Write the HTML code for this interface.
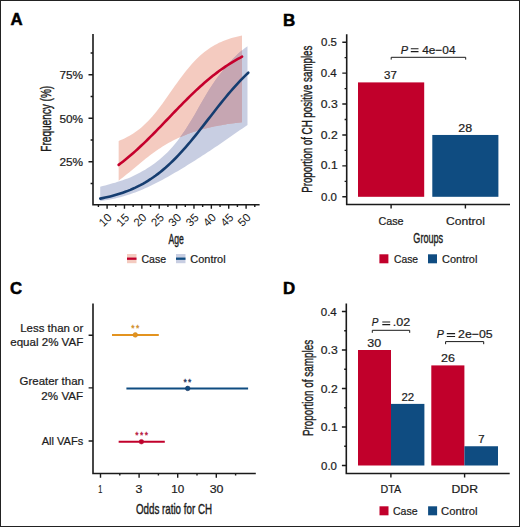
<!DOCTYPE html>
<html><head><meta charset="utf-8"><style>html,body{margin:0;padding:0;background:#fff;width:520px;height:527px;overflow:hidden}svg{display:block}</style></head>
<body><svg width="520" height="527" viewBox="0 0 520 527" font-family="'Liberation Sans', sans-serif">
<rect x="0.5" y="0.5" width="519" height="526" fill="#fff" stroke="#222" stroke-width="1"/>
<text id="lA" x="16.50" y="24.76" font-size="16" text-anchor="middle" fill="#000" textLength="12.12" lengthAdjust="spacingAndGlyphs" font-weight="bold" stroke="#000" stroke-width="0.5">A</text>
<text id="lB" x="289.25" y="25.76" font-size="16" text-anchor="middle" fill="#000" textLength="12.26" lengthAdjust="spacingAndGlyphs" font-weight="bold" stroke="#000" stroke-width="0.5">B</text>
<text id="lC" x="16.00" y="294.26" font-size="16" text-anchor="middle" fill="#000" textLength="12.08" lengthAdjust="spacingAndGlyphs" font-weight="bold" stroke="#000" stroke-width="0.5">C</text>
<text id="lD" x="289.00" y="294.26" font-size="16" text-anchor="middle" fill="#000" textLength="12.18" lengthAdjust="spacingAndGlyphs" font-weight="bold" stroke="#000" stroke-width="0.5">D</text>
<defs><clipPath id="rc"><path d="M118.65,140.94 L120.74,140.07 L122.83,139.15 L124.92,138.16 L127.01,137.09 L129.10,135.96 L131.19,134.73 L133.28,133.42 L135.38,132.01 L137.47,130.50 L139.56,128.88 L141.65,127.14 L143.74,125.29 L145.83,123.32 L147.92,121.22 L150.01,119.00 L152.10,116.66 L154.19,114.20 L156.28,111.63 L158.37,108.97 L160.46,106.21 L162.55,103.38 L164.64,100.48 L166.74,97.54 L168.83,94.56 L170.92,91.57 L173.01,88.59 L175.10,85.61 L177.19,82.67 L179.28,79.78 L181.37,76.95 L183.46,74.19 L185.55,71.51 L187.64,68.92 L189.73,66.43 L191.82,64.05 L193.91,61.77 L196.01,59.60 L198.10,57.55 L200.19,55.61 L202.28,53.78 L204.37,52.06 L206.46,50.45 L208.55,48.94 L210.64,47.54 L212.73,46.23 L214.82,45.01 L216.91,43.89 L219.00,42.84 L221.09,41.88 L223.18,40.99 L225.27,40.17 L227.37,39.42 L229.46,38.72 L231.55,38.09 L233.64,37.50 L235.73,36.97 L237.82,36.48 L239.91,36.03 L242.00,35.62 L242.00,122.18 L239.91,122.41 L237.82,122.66 L235.73,122.92 L233.64,123.20 L231.55,123.49 L229.46,123.79 L227.37,124.11 L225.27,124.44 L223.18,124.79 L221.09,125.15 L219.00,125.53 L216.91,125.94 L214.82,126.36 L212.73,126.80 L210.64,127.26 L208.55,127.74 L206.46,128.25 L204.37,128.79 L202.28,129.34 L200.19,129.93 L198.10,130.54 L196.01,131.19 L193.91,131.86 L191.82,132.57 L189.73,133.31 L187.64,134.08 L185.55,134.89 L183.46,135.74 L181.37,136.63 L179.28,137.56 L177.19,138.53 L175.10,139.55 L173.01,140.61 L170.92,141.72 L168.83,142.87 L166.74,144.07 L164.64,145.32 L162.55,146.62 L160.46,147.96 L158.37,149.35 L156.28,150.79 L154.19,152.27 L152.10,153.80 L150.01,155.37 L147.92,156.97 L145.83,158.61 L143.74,160.28 L141.65,161.97 L139.56,163.69 L137.47,165.42 L135.38,167.16 L133.28,168.91 L131.19,170.65 L129.10,172.38 L127.01,174.09 L124.92,175.78 L122.83,177.44 L120.74,179.07 L118.65,180.66 Z"/></clipPath></defs>
<path d="M100.20,186.72 L102.70,186.08 L105.19,185.43 L107.69,184.75 L110.19,184.07 L112.68,183.36 L115.18,182.63 L117.68,181.87 L120.17,181.08 L122.67,180.26 L125.17,179.37 L127.66,178.42 L130.16,177.40 L132.66,176.29 L135.15,175.11 L137.65,173.85 L140.15,172.52 L142.64,171.12 L145.14,169.65 L147.64,168.11 L150.13,166.48 L152.63,164.77 L155.13,162.95 L157.62,161.03 L160.12,159.00 L162.62,156.86 L165.11,154.57 L167.61,152.14 L170.11,149.54 L172.60,146.76 L175.10,143.79 L177.59,140.64 L180.09,137.31 L182.59,133.81 L185.08,130.14 L187.58,126.32 L190.08,122.34 L192.57,118.20 L195.07,113.92 L197.57,109.54 L200.06,105.12 L202.56,100.72 L205.06,96.42 L207.55,92.24 L210.05,88.22 L212.55,84.39 L215.04,80.75 L217.54,77.30 L220.04,74.02 L222.53,70.89 L225.03,67.87 L227.53,64.94 L230.02,62.09 L232.52,59.35 L235.02,56.74 L237.51,54.28 L240.01,51.99 L242.51,49.89 L245.00,47.97 L247.50,46.24 L247.50,124.88 L245.00,126.63 L242.51,128.38 L240.01,130.12 L237.51,131.87 L235.02,133.61 L232.52,135.35 L230.02,137.08 L227.53,138.81 L225.03,140.53 L222.53,142.24 L220.04,143.94 L217.54,145.64 L215.04,147.33 L212.55,149.00 L210.05,150.67 L207.55,152.32 L205.06,153.97 L202.56,155.60 L200.06,157.21 L197.57,158.82 L195.07,160.41 L192.57,161.99 L190.08,163.55 L187.58,165.10 L185.08,166.64 L182.59,168.16 L180.09,169.66 L177.59,171.15 L175.10,172.61 L172.60,174.07 L170.11,175.50 L167.61,176.91 L165.11,178.30 L162.62,179.66 L160.12,181.00 L157.62,182.31 L155.13,183.58 L152.63,184.83 L150.13,186.04 L147.64,187.21 L145.14,188.34 L142.64,189.43 L140.15,190.47 L137.65,191.47 L135.15,192.42 L132.66,193.33 L130.16,194.19 L127.66,195.00 L125.17,195.77 L122.67,196.48 L120.17,197.16 L117.68,197.79 L115.18,198.38 L112.68,198.93 L110.19,199.44 L107.69,199.91 L105.19,200.35 L102.70,200.76 L100.20,201.13 Z" fill="rgba(110,125,180,0.38)"/>
<path d="M118.65,140.94 L120.74,140.07 L122.83,139.15 L124.92,138.16 L127.01,137.09 L129.10,135.96 L131.19,134.73 L133.28,133.42 L135.38,132.01 L137.47,130.50 L139.56,128.88 L141.65,127.14 L143.74,125.29 L145.83,123.32 L147.92,121.22 L150.01,119.00 L152.10,116.66 L154.19,114.20 L156.28,111.63 L158.37,108.97 L160.46,106.21 L162.55,103.38 L164.64,100.48 L166.74,97.54 L168.83,94.56 L170.92,91.57 L173.01,88.59 L175.10,85.61 L177.19,82.67 L179.28,79.78 L181.37,76.95 L183.46,74.19 L185.55,71.51 L187.64,68.92 L189.73,66.43 L191.82,64.05 L193.91,61.77 L196.01,59.60 L198.10,57.55 L200.19,55.61 L202.28,53.78 L204.37,52.06 L206.46,50.45 L208.55,48.94 L210.64,47.54 L212.73,46.23 L214.82,45.01 L216.91,43.89 L219.00,42.84 L221.09,41.88 L223.18,40.99 L225.27,40.17 L227.37,39.42 L229.46,38.72 L231.55,38.09 L233.64,37.50 L235.73,36.97 L237.82,36.48 L239.91,36.03 L242.00,35.62 L242.00,122.18 L239.91,122.41 L237.82,122.66 L235.73,122.92 L233.64,123.20 L231.55,123.49 L229.46,123.79 L227.37,124.11 L225.27,124.44 L223.18,124.79 L221.09,125.15 L219.00,125.53 L216.91,125.94 L214.82,126.36 L212.73,126.80 L210.64,127.26 L208.55,127.74 L206.46,128.25 L204.37,128.79 L202.28,129.34 L200.19,129.93 L198.10,130.54 L196.01,131.19 L193.91,131.86 L191.82,132.57 L189.73,133.31 L187.64,134.08 L185.55,134.89 L183.46,135.74 L181.37,136.63 L179.28,137.56 L177.19,138.53 L175.10,139.55 L173.01,140.61 L170.92,141.72 L168.83,142.87 L166.74,144.07 L164.64,145.32 L162.55,146.62 L160.46,147.96 L158.37,149.35 L156.28,150.79 L154.19,152.27 L152.10,153.80 L150.01,155.37 L147.92,156.97 L145.83,158.61 L143.74,160.28 L141.65,161.97 L139.56,163.69 L137.47,165.42 L135.38,167.16 L133.28,168.91 L131.19,170.65 L129.10,172.38 L127.01,174.09 L124.92,175.78 L122.83,177.44 L120.74,179.07 L118.65,180.66 Z" fill="rgba(225,110,80,0.36)"/>
<path d="M100.20,186.72 L102.70,186.08 L105.19,185.43 L107.69,184.75 L110.19,184.07 L112.68,183.36 L115.18,182.63 L117.68,181.87 L120.17,181.08 L122.67,180.26 L125.17,179.37 L127.66,178.42 L130.16,177.40 L132.66,176.29 L135.15,175.11 L137.65,173.85 L140.15,172.52 L142.64,171.12 L145.14,169.65 L147.64,168.11 L150.13,166.48 L152.63,164.77 L155.13,162.95 L157.62,161.03 L160.12,159.00 L162.62,156.86 L165.11,154.57 L167.61,152.14 L170.11,149.54 L172.60,146.76 L175.10,143.79 L177.59,140.64 L180.09,137.31 L182.59,133.81 L185.08,130.14 L187.58,126.32 L190.08,122.34 L192.57,118.20 L195.07,113.92 L197.57,109.54 L200.06,105.12 L202.56,100.72 L205.06,96.42 L207.55,92.24 L210.05,88.22 L212.55,84.39 L215.04,80.75 L217.54,77.30 L220.04,74.02 L222.53,70.89 L225.03,67.87 L227.53,64.94 L230.02,62.09 L232.52,59.35 L235.02,56.74 L237.51,54.28 L240.01,51.99 L242.51,49.89 L245.00,47.97 L247.50,46.24 L247.50,124.88 L245.00,126.63 L242.51,128.38 L240.01,130.12 L237.51,131.87 L235.02,133.61 L232.52,135.35 L230.02,137.08 L227.53,138.81 L225.03,140.53 L222.53,142.24 L220.04,143.94 L217.54,145.64 L215.04,147.33 L212.55,149.00 L210.05,150.67 L207.55,152.32 L205.06,153.97 L202.56,155.60 L200.06,157.21 L197.57,158.82 L195.07,160.41 L192.57,161.99 L190.08,163.55 L187.58,165.10 L185.08,166.64 L182.59,168.16 L180.09,169.66 L177.59,171.15 L175.10,172.61 L172.60,174.07 L170.11,175.50 L167.61,176.91 L165.11,178.30 L162.62,179.66 L160.12,181.00 L157.62,182.31 L155.13,183.58 L152.63,184.83 L150.13,186.04 L147.64,187.21 L145.14,188.34 L142.64,189.43 L140.15,190.47 L137.65,191.47 L135.15,192.42 L132.66,193.33 L130.16,194.19 L127.66,195.00 L125.17,195.77 L122.67,196.48 L120.17,197.16 L117.68,197.79 L115.18,198.38 L112.68,198.93 L110.19,199.44 L107.69,199.91 L105.19,200.35 L102.70,200.76 L100.20,201.13 Z" fill="rgb(198,166,178)" clip-path="url(#rc)"/>
<path d="M118.65,164.88 L120.74,163.30 L122.83,161.67 L124.93,160.01 L127.02,158.31 L129.11,156.56 L131.20,154.78 L133.30,152.96 L135.39,151.10 L137.48,149.21 L139.57,147.28 L141.67,145.32 L143.76,143.33 L145.85,141.31 L147.94,139.26 L150.04,137.19 L152.13,135.09 L154.22,132.98 L156.31,130.84 L158.41,128.69 L160.50,126.53 L162.59,124.36 L164.68,122.18 L166.77,120.00 L168.87,117.81 L170.96,115.62 L173.05,113.44 L175.14,111.27 L177.24,109.10 L179.33,106.94 L181.42,104.80 L183.51,102.68 L185.61,100.57 L187.70,98.49 L189.79,96.43 L191.88,94.39 L193.98,92.39 L196.07,90.41 L198.16,88.47 L200.25,86.56 L202.34,84.68 L204.44,82.84 L206.53,81.04 L208.62,79.27 L210.71,77.55 L212.81,75.86 L214.90,74.22 L216.99,72.62 L219.08,71.06 L221.18,69.54 L223.27,68.07 L225.36,66.63 L227.45,65.24 L229.55,63.89 L231.64,62.58 L233.73,61.32 L235.82,60.10 L237.92,58.91 L240.01,57.77 L242.10,56.66" fill="none" stroke="#C5002C" stroke-width="2.6" stroke-linecap="round"/>
<path d="M100.20,198.61 L102.71,198.11 L105.22,197.59 L107.73,197.02 L110.24,196.42 L112.75,195.77 L115.26,195.08 L117.77,194.35 L120.28,193.56 L122.79,192.72 L125.30,191.83 L127.81,190.88 L130.32,189.87 L132.83,188.79 L135.34,187.65 L137.85,186.43 L140.36,185.15 L142.87,183.79 L145.38,182.35 L147.89,180.82 L150.40,179.22 L152.91,177.53 L155.42,175.75 L157.93,173.88 L160.44,171.92 L162.95,169.87 L165.46,167.73 L167.97,165.49 L170.48,163.16 L172.99,160.75 L175.51,158.24 L178.02,155.64 L180.53,152.96 L183.04,150.20 L185.55,147.36 L188.06,144.45 L190.57,141.48 L193.08,138.45 L195.59,135.36 L198.10,132.23 L200.61,129.06 L203.12,125.86 L205.63,122.64 L208.14,119.41 L210.65,116.18 L213.16,112.95 L215.67,109.74 L218.18,106.55 L220.69,103.39 L223.20,100.28 L225.71,97.21 L228.22,94.19 L230.73,91.24 L233.24,88.36 L235.75,85.54 L238.26,82.81 L240.77,80.16 L243.28,77.59 L245.79,75.11 L248.30,72.73" fill="none" stroke="#153D70" stroke-width="2.6" stroke-linecap="round"/>
<path d="M93,34 V204.7 H259.6" fill="none" stroke="#1a1a1a" stroke-width="1.6"/>
<path d="M90.6,183.55 H93 M90.6,140.05 H93 M90.6,96.55 H93 M90.6,53.05 H93 M88.5,161.80 H93 M88.5,118.30 H93 M88.5,74.80 H93 M98.41,204.7 V206.9 M115.79,204.7 V206.9 M133.16,204.7 V206.9 M150.54,204.7 V206.9 M167.91,204.7 V206.9 M185.29,204.7 V206.9 M202.66,204.7 V206.9 M220.04,204.7 V206.9 M237.41,204.7 V206.9 M254.79,204.7 V206.9 M107.10,204.7 V208.8 M124.47,204.7 V208.8 M141.85,204.7 V208.8 M159.22,204.7 V208.8 M176.60,204.7 V208.8 M193.97,204.7 V208.8 M211.35,204.7 V208.8 M228.72,204.7 V208.8 M246.10,204.7 V208.8" fill="none" stroke="#1a1a1a" stroke-width="1.4"/>
<text id="ya75" x="71.25" y="78.64" font-size="11.5" text-anchor="middle" fill="#1c1c1c" textLength="23.66" lengthAdjust="spacingAndGlyphs"  stroke="#1c1c1c" stroke-width="0.22">75%</text>
<text id="ya50" x="71.25" y="122.64" font-size="11.5" text-anchor="middle" fill="#1c1c1c" textLength="23.66" lengthAdjust="spacingAndGlyphs"  stroke="#1c1c1c" stroke-width="0.22">50%</text>
<text id="ya25" x="71.25" y="165.64" font-size="11.5" text-anchor="middle" fill="#1c1c1c" textLength="23.66" lengthAdjust="spacingAndGlyphs"  stroke="#1c1c1c" stroke-width="0.22">25%</text>
<text transform="translate(106.90,212.50) rotate(-45)" font-size="11.5" text-anchor="end" dominant-baseline="hanging" fill="#1c1c1c">10</text>
<text transform="translate(124.27,212.50) rotate(-45)" font-size="11.5" text-anchor="end" dominant-baseline="hanging" fill="#1c1c1c">15</text>
<text transform="translate(141.65,212.50) rotate(-45)" font-size="11.5" text-anchor="end" dominant-baseline="hanging" fill="#1c1c1c">20</text>
<text transform="translate(159.03,212.50) rotate(-45)" font-size="11.5" text-anchor="end" dominant-baseline="hanging" fill="#1c1c1c">25</text>
<text transform="translate(176.40,212.50) rotate(-45)" font-size="11.5" text-anchor="end" dominant-baseline="hanging" fill="#1c1c1c">30</text>
<text transform="translate(193.78,212.50) rotate(-45)" font-size="11.5" text-anchor="end" dominant-baseline="hanging" fill="#1c1c1c">35</text>
<text transform="translate(211.15,212.50) rotate(-45)" font-size="11.5" text-anchor="end" dominant-baseline="hanging" fill="#1c1c1c">40</text>
<text transform="translate(228.53,212.50) rotate(-45)" font-size="11.5" text-anchor="end" dominant-baseline="hanging" fill="#1c1c1c">45</text>
<text transform="translate(245.90,212.50) rotate(-45)" font-size="11.5" text-anchor="end" dominant-baseline="hanging" fill="#1c1c1c">50</text>
<text id="tFreq" transform="translate(51.22,118.75) rotate(-90)" font-size="14.5" text-anchor="middle" fill="#1c1c1c" textLength="65.84" lengthAdjust="spacingAndGlyphs" stroke="#1c1c1c" stroke-width="0.4">Frequency (%)</text>
<text id="tAge" x="176.25" y="243.72" font-size="14.5" text-anchor="middle" fill="#1c1c1c" textLength="15.36" lengthAdjust="spacingAndGlyphs" stroke="#1c1c1c" stroke-width="0.4">Age</text>
<rect x="127" y="254" width="9.5" height="9.2" fill="rgba(225,110,80,0.36)"/>
<path d="M127,258.7 H136.5" stroke="#C1002B" stroke-width="2.3"/>
<rect x="176" y="254" width="9.5" height="9.2" fill="rgba(110,125,180,0.38)"/>
<path d="M176,258.7 H185.5" stroke="#0F4C81" stroke-width="2.3"/>
<text id="legA1" x="153.75" y="262.53" font-size="11.2" text-anchor="middle" fill="#1c1c1c" textLength="24.67" lengthAdjust="spacingAndGlyphs"  stroke="#1c1c1c" stroke-width="0.22">Case</text>
<text id="legA2" x="208.00" y="262.53" font-size="11.2" text-anchor="middle" fill="#1c1c1c" textLength="35.30" lengthAdjust="spacingAndGlyphs"  stroke="#1c1c1c" stroke-width="0.22">Control</text>
<rect x="358" y="82.40" width="66.2" height="114.40" fill="#C1002B"/>
<rect x="432.3" y="134.96" width="66.1" height="61.84" fill="#0F4C81"/>
<path d="M346.7,34.3 V204.5 H510" fill="none" stroke="#1a1a1a" stroke-width="1.6"/>
<path d="M342.3,196.80 H346.7 M342.3,165.88 H346.7 M342.3,134.96 H346.7 M342.3,104.04 H346.7 M342.3,73.12 H346.7 M342.3,42.20 H346.7 M344.6,181.34 H346.7 M344.6,150.42 H346.7 M344.6,119.50 H346.7 M344.6,88.58 H346.7 M344.6,57.66 H346.7 M391.1,204.5 V208.5 M465.4,204.5 V208.5" fill="none" stroke="#1a1a1a" stroke-width="1.4"/>
<text id="yb0" x="329.00" y="200.64" font-size="11.5" text-anchor="middle" fill="#1c1c1c" textLength="15.92" lengthAdjust="spacingAndGlyphs"  stroke="#1c1c1c" stroke-width="0.22">0.0</text>
<text id="yb1" x="329.25" y="169.44" font-size="11.5" text-anchor="middle" fill="#1c1c1c" textLength="16.92" lengthAdjust="spacingAndGlyphs"  stroke="#1c1c1c" stroke-width="0.22">0.1</text>
<text id="yb2" x="329.25" y="139.24" font-size="11.5" text-anchor="middle" fill="#1c1c1c" textLength="16.92" lengthAdjust="spacingAndGlyphs"  stroke="#1c1c1c" stroke-width="0.22">0.2</text>
<text id="yb3" x="329.25" y="108.04" font-size="11.5" text-anchor="middle" fill="#1c1c1c" textLength="16.92" lengthAdjust="spacingAndGlyphs"  stroke="#1c1c1c" stroke-width="0.22">0.3</text>
<text id="yb4" x="328.75" y="76.84" font-size="11.5" text-anchor="middle" fill="#1c1c1c" textLength="16.00" lengthAdjust="spacingAndGlyphs"  stroke="#1c1c1c" stroke-width="0.22">0.4</text>
<text id="yb5" x="329.00" y="46.14" font-size="11.5" text-anchor="middle" fill="#1c1c1c" textLength="15.92" lengthAdjust="spacingAndGlyphs"  stroke="#1c1c1c" stroke-width="0.22">0.5</text>
<text id="b37" x="390.50" y="78.64" font-size="11.5" text-anchor="middle" fill="#1c1c1c" textLength="12.81" lengthAdjust="spacingAndGlyphs"  stroke="#1c1c1c" stroke-width="0.22">37</text>
<text id="b28" x="465.25" y="132.14" font-size="11.5" text-anchor="middle" fill="#1c1c1c" textLength="13.89" lengthAdjust="spacingAndGlyphs"  stroke="#1c1c1c" stroke-width="0.22">28</text>
<path d="M391.2,59.6 V57.3 H465.7 V59.6" fill="none" stroke="#1a1a1a" stroke-width="1"/>
<text id="bPp" x="404.50" y="54.14" font-size="11.5" text-anchor="middle" fill="#1c1c1c" textLength="7.34" lengthAdjust="spacingAndGlyphs" font-style="italic" stroke="#1c1c1c" stroke-width="0.22">P</text>
<path d="M410.80,48.80 H418.50 M410.80,51.60 H418.50" stroke="#1c1c1c" stroke-width="1.05"/>
<text id="bPr" x="438.85" y="54.14" font-size="11.5" text-anchor="middle" fill="#1c1c1c" textLength="33.33" lengthAdjust="spacingAndGlyphs"  stroke="#1c1c1c" stroke-width="0.22">4e−04</text>
<text id="bxCase" x="391.00" y="224.64" font-size="11.5" text-anchor="middle" fill="#1c1c1c" textLength="25.19" lengthAdjust="spacingAndGlyphs"  stroke="#1c1c1c" stroke-width="0.22">Case</text>
<text id="bxCtrl" x="465.50" y="224.64" font-size="11.5" text-anchor="middle" fill="#1c1c1c" textLength="38.98" lengthAdjust="spacingAndGlyphs"  stroke="#1c1c1c" stroke-width="0.22">Control</text>
<text id="tGroups" x="428.25" y="243.22" font-size="14.5" text-anchor="middle" fill="#1c1c1c" textLength="29.78" lengthAdjust="spacingAndGlyphs" stroke="#1c1c1c" stroke-width="0.4">Groups</text>
<text id="tPropCH" transform="translate(312.22,119.25) rotate(-90)" font-size="14.5" text-anchor="middle" fill="#1c1c1c" textLength="147.22" lengthAdjust="spacingAndGlyphs" stroke="#1c1c1c" stroke-width="0.4">Proportion of CH positive samples</text>
<rect x="379.4" y="254.3" width="9" height="9" fill="#C1002B"/>
<rect x="428" y="254.3" width="9" height="9" fill="#0F4C81"/>
<text id="legB1" x="406.00" y="262.53" font-size="11.2" text-anchor="middle" fill="#1c1c1c" textLength="24.12" lengthAdjust="spacingAndGlyphs"  stroke="#1c1c1c" stroke-width="0.22">Case</text>
<text id="legB2" x="459.75" y="262.53" font-size="11.2" text-anchor="middle" fill="#1c1c1c" textLength="35.32" lengthAdjust="spacingAndGlyphs"  stroke="#1c1c1c" stroke-width="0.22">Control</text>
<path d="M93,303.5 V473.5 H255.8" fill="none" stroke="#1a1a1a" stroke-width="1.6"/>
<path d="M88.6,335.2 H93 M88.6,387.9 H93 M88.6,441.0 H93 M100.50,473.5 V477.7 M119.80,473.5 V475.6 M139.10,473.5 V477.7 M158.40,473.5 V475.6 M177.70,473.5 V477.7 M197.00,473.5 V475.6 M216.30,473.5 V477.7 M235.60,473.5 V475.6" fill="none" stroke="#1a1a1a" stroke-width="1.4"/>
<text id="cx1" x="100.25" y="493.09" font-size="11.5" text-anchor="middle" fill="#1c1c1c" textLength="4.06" lengthAdjust="spacingAndGlyphs"  stroke="#1c1c1c" stroke-width="0.22">1</text>
<text id="cx3" x="138.90" y="493.09" font-size="11.5" text-anchor="middle" fill="#1c1c1c" textLength="6.86" lengthAdjust="spacingAndGlyphs"  stroke="#1c1c1c" stroke-width="0.22">3</text>
<text id="cx10" x="177.75" y="492.64" font-size="11.5" text-anchor="middle" fill="#1c1c1c" textLength="13.00" lengthAdjust="spacingAndGlyphs"  stroke="#1c1c1c" stroke-width="0.22">10</text>
<text id="cx30" x="216.50" y="492.64" font-size="11.5" text-anchor="middle" fill="#1c1c1c" textLength="13.75" lengthAdjust="spacingAndGlyphs"  stroke="#1c1c1c" stroke-width="0.22">30</text>
<text id="tOdds" x="174.00" y="513.72" font-size="14.5" text-anchor="middle" fill="#1c1c1c" textLength="75.99" lengthAdjust="spacingAndGlyphs" stroke="#1c1c1c" stroke-width="0.4">Odds ratio for CH</text>
<text id="cLess" x="51.75" y="331.53" font-size="11.2" text-anchor="middle" fill="#1c1c1c" textLength="63.03" lengthAdjust="spacingAndGlyphs"  stroke="#1c1c1c" stroke-width="0.22">Less than or</text>
<text id="cEq" x="46.75" y="346.33" font-size="11.2" text-anchor="middle" fill="#1c1c1c" textLength="72.94" lengthAdjust="spacingAndGlyphs"  stroke="#1c1c1c" stroke-width="0.22">equal 2% VAF</text>
<text id="cGr" x="51.75" y="385.03" font-size="11.2" text-anchor="middle" fill="#1c1c1c" textLength="64.29" lengthAdjust="spacingAndGlyphs"  stroke="#1c1c1c" stroke-width="0.22">Greater than</text>
<text id="c2p" x="62.25" y="399.53" font-size="11.2" text-anchor="middle" fill="#1c1c1c" textLength="41.73" lengthAdjust="spacingAndGlyphs"  stroke="#1c1c1c" stroke-width="0.22">2% VAF</text>
<text id="cAll" x="62.50" y="444.53" font-size="11.2" text-anchor="middle" fill="#1c1c1c" textLength="41.54" lengthAdjust="spacingAndGlyphs"  stroke="#1c1c1c" stroke-width="0.22">All VAFs</text>
<path d="M112,334.9 H158.8" stroke="#E3931F" stroke-width="2"/>
<circle cx="135.3" cy="334.9" r="2.3" fill="#E3931F" stroke="#D08E28" stroke-width="0.6"/>
<text x="132.85" y="331.10" font-size="8.5" text-anchor="middle" fill="#D08E28" stroke="#D08E28" stroke-width="0.3">*</text>
<text x="137.55" y="331.10" font-size="8.5" text-anchor="middle" fill="#D08E28" stroke="#D08E28" stroke-width="0.3">*</text>
<path d="M126.4,388.4 H248.1" stroke="#0F4C81" stroke-width="2"/>
<circle cx="187.7" cy="388.4" r="2.3" fill="#0F4C81" stroke="#1f3560" stroke-width="0.6"/>
<text x="185.05" y="384.60" font-size="8.5" text-anchor="middle" fill="#1f3560" stroke="#1f3560" stroke-width="0.3">*</text>
<text x="189.75" y="384.60" font-size="8.5" text-anchor="middle" fill="#1f3560" stroke="#1f3560" stroke-width="0.3">*</text>
<path d="M118.65,441.7 H164.8" stroke="#C1002B" stroke-width="2"/>
<circle cx="141.4" cy="441.7" r="2.3" fill="#C1002B" stroke="#B5133A" stroke-width="0.6"/>
<text x="137.00" y="437.80" font-size="8.5" text-anchor="middle" fill="#B5133A" stroke="#B5133A" stroke-width="0.3">*</text>
<text x="141.70" y="437.80" font-size="8.5" text-anchor="middle" fill="#B5133A" stroke="#B5133A" stroke-width="0.3">*</text>
<text x="146.40" y="437.80" font-size="8.5" text-anchor="middle" fill="#B5133A" stroke="#B5133A" stroke-width="0.3">*</text>
<rect x="358" y="350.00" width="33" height="115.50" fill="#C1002B"/>
<rect x="391" y="403.90" width="33.4" height="61.60" fill="#0F4C81"/>
<rect x="431.3" y="365.40" width="33.1" height="100.10" fill="#C1002B"/>
<rect x="464.4" y="446.25" width="33.6" height="19.25" fill="#0F4C81"/>
<path d="M346.3,303.5 V473.5 H509.7" fill="none" stroke="#1a1a1a" stroke-width="1.6"/>
<path d="M341.9,465.50 H346.3 M341.9,427.00 H346.3 M341.9,388.50 H346.3 M341.9,350.00 H346.3 M341.9,311.50 H346.3 M344.2,446.25 H346.3 M344.2,407.75 H346.3 M344.2,369.25 H346.3 M344.2,330.75 H346.3 M390.9,473.5 V477.5 M464.6,473.5 V477.5" fill="none" stroke="#1a1a1a" stroke-width="1.4"/>
<text id="yd0" x="329.00" y="469.64" font-size="11.5" text-anchor="middle" fill="#1c1c1c" textLength="15.92" lengthAdjust="spacingAndGlyphs"  stroke="#1c1c1c" stroke-width="0.22">0.0</text>
<text id="yd1" x="329.25" y="430.64" font-size="11.5" text-anchor="middle" fill="#1c1c1c" textLength="16.92" lengthAdjust="spacingAndGlyphs"  stroke="#1c1c1c" stroke-width="0.22">0.1</text>
<text id="yd2" x="329.25" y="392.64" font-size="11.5" text-anchor="middle" fill="#1c1c1c" textLength="16.92" lengthAdjust="spacingAndGlyphs"  stroke="#1c1c1c" stroke-width="0.22">0.2</text>
<text id="yd3" x="329.25" y="353.64" font-size="11.5" text-anchor="middle" fill="#1c1c1c" textLength="16.92" lengthAdjust="spacingAndGlyphs"  stroke="#1c1c1c" stroke-width="0.22">0.3</text>
<text id="yd4" x="328.75" y="315.64" font-size="11.5" text-anchor="middle" fill="#1c1c1c" textLength="16.00" lengthAdjust="spacingAndGlyphs"  stroke="#1c1c1c" stroke-width="0.22">0.4</text>
<text id="d30" x="374.25" y="346.64" font-size="11.5" text-anchor="middle" fill="#1c1c1c" textLength="13.90" lengthAdjust="spacingAndGlyphs"  stroke="#1c1c1c" stroke-width="0.22">30</text>
<text id="d22" x="407.75" y="400.64" font-size="11.5" text-anchor="middle" fill="#1c1c1c" textLength="12.75" lengthAdjust="spacingAndGlyphs"  stroke="#1c1c1c" stroke-width="0.22">22</text>
<text id="d26" x="448.00" y="361.64" font-size="11.5" text-anchor="middle" fill="#1c1c1c" textLength="13.90" lengthAdjust="spacingAndGlyphs"  stroke="#1c1c1c" stroke-width="0.22">26</text>
<text id="d7" x="481.50" y="443.14" font-size="11.5" text-anchor="middle" fill="#1c1c1c" textLength="6.38" lengthAdjust="spacingAndGlyphs"  stroke="#1c1c1c" stroke-width="0.22">7</text>
<path d="M372.3,332.8 V330.3 H409.7 V332.8" fill="none" stroke="#1a1a1a" stroke-width="1"/>
<path d="M445.6,344.2 V341.6 H483.7 V344.2" fill="none" stroke="#1a1a1a" stroke-width="1"/>
<text id="dP1p" x="375.05" y="326.39" font-size="11.5" text-anchor="middle" fill="#1c1c1c" textLength="6.62" lengthAdjust="spacingAndGlyphs" font-style="italic" stroke="#1c1c1c" stroke-width="0.22">P</text>
<path d="M382.30,322.00 H390.20 M382.30,324.60 H390.20" stroke="#1c1c1c" stroke-width="1.05"/>
<text id="dP1r" x="401.40" y="326.39" font-size="11.5" text-anchor="middle" fill="#1c1c1c" textLength="17.48" lengthAdjust="spacingAndGlyphs"  stroke="#1c1c1c" stroke-width="0.22">.02</text>
<text id="dP2p" x="440.20" y="338.34" font-size="11.5" text-anchor="middle" fill="#1c1c1c" textLength="7.14" lengthAdjust="spacingAndGlyphs" font-style="italic" stroke="#1c1c1c" stroke-width="0.22">P</text>
<path d="M446.80,333.60 H455.10 M446.80,336.50 H455.10" stroke="#1c1c1c" stroke-width="1.05"/>
<text id="dP2r" x="475.40" y="338.34" font-size="11.5" text-anchor="middle" fill="#1c1c1c" textLength="34.65" lengthAdjust="spacingAndGlyphs"  stroke="#1c1c1c" stroke-width="0.22">2e−05</text>
<text id="dDTA" x="390.75" y="492.64" font-size="11.5" text-anchor="middle" fill="#1c1c1c" textLength="20.60" lengthAdjust="spacingAndGlyphs"  stroke="#1c1c1c" stroke-width="0.22">DTA</text>
<text id="dDDR" x="464.75" y="493.14" font-size="11.5" text-anchor="middle" fill="#1c1c1c" textLength="26.49" lengthAdjust="spacingAndGlyphs"  stroke="#1c1c1c" stroke-width="0.22">DDR</text>
<text id="tPropS" transform="translate(312.72,388.00) rotate(-90)" font-size="14.5" text-anchor="middle" fill="#1c1c1c" textLength="96.15" lengthAdjust="spacingAndGlyphs" stroke="#1c1c1c" stroke-width="0.4">Proportion of samples</text>
<rect x="379.5" y="506.3" width="9" height="9" fill="#C1002B"/>
<rect x="428.1" y="506.3" width="9" height="9" fill="#0F4C81"/>
<text id="legD1" x="405.25" y="514.53" font-size="11.2" text-anchor="middle" fill="#1c1c1c" textLength="24.73" lengthAdjust="spacingAndGlyphs"  stroke="#1c1c1c" stroke-width="0.22">Case</text>
<text id="legD2" x="459.25" y="514.53" font-size="11.2" text-anchor="middle" fill="#1c1c1c" textLength="36.31" lengthAdjust="spacingAndGlyphs"  stroke="#1c1c1c" stroke-width="0.22">Control</text>
</svg></body></html>
